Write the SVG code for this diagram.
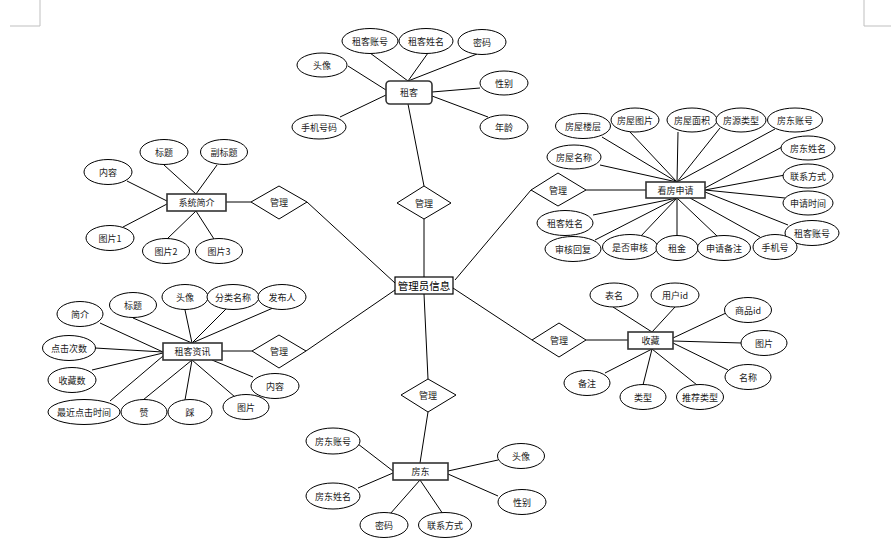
<svg xmlns="http://www.w3.org/2000/svg" width="891" height="553" viewBox="0 0 891 553">
<style>
  .bg { fill: #ffffff; }
  .mark { stroke: #bfbfbf; stroke-width: 1; fill: none; }
  .attr ellipse { fill: #ffffff; stroke: #000000; stroke-width: 1; }
  .ent rect { fill: #ffffff; stroke: #333333; stroke-width: 1.6; }
  .rel polygon { fill: #ffffff; stroke: #000000; stroke-width: 1; }
  .main rect { fill: #ffffff; stroke: #000000; stroke-width: 1.2; }
  text { font-family: "Noto Sans CJK SC", "Liberation Sans", sans-serif; font-size: 9px; fill: #1a1a1a; text-anchor: middle; dominant-baseline: central; }
  .main text { font-size: 10.5px; fill: #000000; }
  #connectors line { stroke: #000000; stroke-width: 1; }
</style>
<rect class="bg" x="0" y="0" width="891" height="553"/>
<g id="page-marks">
  <line class="mark" x1="40" y1="0" x2="40" y2="26"/>
  <line class="mark" x1="10" y1="26" x2="40" y2="26"/>
  <line class="mark" x1="864" y1="0" x2="864" y2="26"/>
  <line class="mark" x1="864" y1="26" x2="891" y2="26"/>
</g>
<g id="connectors">
  <!-- central relationships -->
  <line x1="424" y1="277" x2="424" y2="219"/>
  <line x1="424" y1="186" x2="408" y2="104"/>
  <line x1="455" y1="280" x2="531" y2="190"/>
  <line x1="586" y1="190" x2="646" y2="190"/>
  <line x1="395" y1="283" x2="307" y2="202"/>
  <line x1="251" y1="202" x2="226" y2="202"/>
  <line x1="395" y1="290" x2="306" y2="351"/>
  <line x1="252" y1="351" x2="222" y2="351"/>
  <line x1="453" y1="288" x2="532" y2="340"/>
  <line x1="586" y1="340" x2="628" y2="340"/>
  <line x1="424" y1="294" x2="428" y2="379"/>
  <line x1="428" y1="412" x2="420" y2="463"/>
  <!-- 租客 -->
  <line x1="370" y1="53" x2="408" y2="81"/>
  <line x1="428" y1="53" x2="408" y2="81"/>
  <line x1="477" y1="54" x2="408" y2="81"/>
  <line x1="348" y1="66" x2="386" y2="90"/>
  <line x1="340" y1="117" x2="386" y2="95"/>
  <line x1="480" y1="88" x2="432" y2="92"/>
  <line x1="488" y1="117" x2="432" y2="96"/>
  <!-- 看房申请 -->
  <line x1="602" y1="137" x2="677" y2="182"/>
  <line x1="630" y1="132" x2="677" y2="182"/>
  <line x1="678" y1="132" x2="677" y2="182"/>
  <line x1="720" y1="128" x2="677" y2="182"/>
  <line x1="775" y1="129" x2="677" y2="182"/>
  <line x1="600" y1="165" x2="677" y2="182"/>
  <line x1="782" y1="147" x2="705" y2="188"/>
  <line x1="785" y1="175" x2="705" y2="190"/>
  <line x1="785" y1="198" x2="705" y2="190"/>
  <line x1="788" y1="225" x2="705" y2="192"/>
  <line x1="593" y1="215" x2="677" y2="198"/>
  <line x1="595" y1="240" x2="677" y2="198"/>
  <line x1="640" y1="237" x2="677" y2="198"/>
  <line x1="677" y1="236" x2="677" y2="198"/>
  <line x1="717" y1="236" x2="677" y2="198"/>
  <line x1="760" y1="237" x2="690" y2="198"/>
  <!-- 系统简介 -->
  <line x1="127" y1="181" x2="167" y2="201"/>
  <line x1="164" y1="165" x2="196" y2="194"/>
  <line x1="217" y1="165" x2="196" y2="194"/>
  <line x1="123" y1="227" x2="167" y2="204"/>
  <line x1="167" y1="239" x2="196" y2="211"/>
  <line x1="214" y1="239" x2="196" y2="211"/>
  <!-- 租客资讯 -->
  <line x1="100" y1="323" x2="163" y2="352"/>
  <line x1="95" y1="348" x2="163" y2="352"/>
  <line x1="92" y1="370" x2="163" y2="353"/>
  <line x1="110" y1="401" x2="163" y2="356"/>
  <line x1="133" y1="318" x2="192" y2="343"/>
  <line x1="185" y1="310" x2="192" y2="343"/>
  <line x1="227" y1="308" x2="192" y2="343"/>
  <line x1="273" y1="308" x2="192" y2="343"/>
  <line x1="143" y1="400" x2="192" y2="360"/>
  <line x1="185" y1="400" x2="192" y2="360"/>
  <line x1="235" y1="397" x2="192" y2="360"/>
  <line x1="253" y1="377" x2="212" y2="360"/>
  <!-- 收藏 -->
  <line x1="613" y1="307" x2="652" y2="332"/>
  <line x1="675" y1="307" x2="652" y2="332"/>
  <line x1="726" y1="313" x2="673" y2="338"/>
  <line x1="742" y1="343" x2="673" y2="341"/>
  <line x1="728" y1="370" x2="673" y2="343"/>
  <line x1="605" y1="373" x2="652" y2="349"/>
  <line x1="643" y1="385" x2="652" y2="349"/>
  <line x1="697" y1="385" x2="652" y2="349"/>
  <!-- 房东 -->
  <line x1="358" y1="444" x2="393" y2="471"/>
  <line x1="358" y1="488" x2="393" y2="473"/>
  <line x1="390" y1="514" x2="420" y2="480"/>
  <line x1="443" y1="514" x2="420" y2="480"/>
  <line x1="498" y1="460" x2="448" y2="471"/>
  <line x1="498" y1="496" x2="448" y2="474"/>
</g>

<!-- central entity -->
<g id="n-admin" class="main"><rect x="395" y="277" width="58" height="17"/><text x="424" y="285.5">管理员信息</text></g>

<!-- relationships -->
<g id="r-zuke" class="rel"><polygon points="397,203 424,186 451,203 424,219"/><text x="424" y="203">管理</text></g>
<g id="r-kanfang" class="rel"><polygon points="531,190 558,173 586,190 558,206"/><text x="558" y="190">管理</text></g>
<g id="r-xitong" class="rel"><polygon points="251,202 279,186 307,202 279,219"/><text x="279" y="202.5">管理</text></g>
<g id="r-zixun" class="rel"><polygon points="252,351 279,335 306,351 279,368"/><text x="279" y="351.5">管理</text></g>
<g id="r-shoucang" class="rel"><polygon points="532,340 559,323 586,340 559,357"/><text x="559" y="340">管理</text></g>
<g id="r-fangdong" class="rel"><polygon points="401,395 428,379 456,395 428,412"/><text x="428" y="395.5">管理</text></g>

<!-- entities -->
<g id="e-zuke" class="ent"><rect x="386" y="81" width="46" height="23" rx="4"/><text x="409" y="92.5">租客</text></g>
<g id="e-kanfang" class="ent"><rect x="646" y="182" width="59" height="16"/><text x="675.5" y="190">看房申请</text></g>
<g id="e-xitong" class="ent"><rect x="167" y="194" width="59" height="17"/><text x="196.5" y="202.5">系统简介</text></g>
<g id="e-zixun" class="ent"><rect x="163" y="343" width="59" height="17"/><text x="192.5" y="351.5">租客资讯</text></g>
<g id="e-shoucang" class="ent"><rect x="628" y="332" width="45" height="17"/><text x="650.5" y="340.5">收藏</text></g>
<g id="e-fangdong" class="ent"><rect x="393" y="463" width="55" height="17"/><text x="420.5" y="471.5">房东</text></g>

<!-- 租客 attributes -->
<g id="a-zk-zhanghao" class="attr"><ellipse cx="370" cy="41" rx="28" ry="12.5"/><text x="370" y="41">租客账号</text></g>
<g id="a-zk-xingming" class="attr"><ellipse cx="426" cy="41" rx="27" ry="12.5"/><text x="426" y="41">租客姓名</text></g>
<g id="a-zk-mima" class="attr"><ellipse cx="482" cy="42" rx="24" ry="12.5"/><text x="482" y="42">密码</text></g>
<g id="a-zk-touxiang" class="attr"><ellipse cx="322" cy="65" rx="25" ry="12"/><text x="322" y="65">头像</text></g>
<g id="a-zk-shouji" class="attr"><ellipse cx="319" cy="127" rx="27" ry="12"/><text x="319" y="127">手机号码</text></g>
<g id="a-zk-xingbie" class="attr"><ellipse cx="504" cy="83" rx="24" ry="12"/><text x="504" y="83">性别</text></g>
<g id="a-zk-nianling" class="attr"><ellipse cx="504" cy="127" rx="24" ry="12"/><text x="504" y="127">年龄</text></g>

<!-- 看房申请 attributes -->
<g id="a-kf-louceng" class="attr"><ellipse cx="583" cy="126" rx="27.5" ry="12.5"/><text x="583" y="126">房屋楼层</text></g>
<g id="a-kf-tupian" class="attr"><ellipse cx="635" cy="120" rx="24" ry="12"/><text x="635" y="120">房屋图片</text></g>
<g id="a-kf-mianji" class="attr"><ellipse cx="692" cy="120" rx="25" ry="12"/><text x="692" y="120">房屋面积</text></g>
<g id="a-kf-leixing" class="attr"><ellipse cx="741" cy="120" rx="25" ry="12"/><text x="741" y="120">房源类型</text></g>
<g id="a-kf-fdzhanghao" class="attr"><ellipse cx="795" cy="120" rx="27.5" ry="12"/><text x="795" y="120">房东账号</text></g>
<g id="a-kf-mingcheng" class="attr"><ellipse cx="574" cy="157" rx="27" ry="12"/><text x="574" y="157">房屋名称</text></g>
<g id="a-kf-fdxingming" class="attr"><ellipse cx="808" cy="148" rx="27" ry="12"/><text x="808" y="148">房东姓名</text></g>
<g id="a-kf-lianxi" class="attr"><ellipse cx="808" cy="176" rx="25" ry="12"/><text x="808" y="176">联系方式</text></g>
<g id="a-kf-shijian" class="attr"><ellipse cx="808" cy="203" rx="25" ry="12"/><text x="808" y="203">申请时间</text></g>
<g id="a-kf-zkzhanghao" class="attr"><ellipse cx="812" cy="233" rx="27" ry="12.5"/><text x="812" y="233">租客账号</text></g>
<g id="a-kf-zkxingming" class="attr"><ellipse cx="565" cy="223" rx="28" ry="12.5"/><text x="565" y="223">租客姓名</text></g>
<g id="a-kf-huifu" class="attr"><ellipse cx="573" cy="249" rx="28" ry="12.5"/><text x="573" y="249">审核回复</text></g>
<g id="a-kf-shenhe" class="attr"><ellipse cx="630" cy="247" rx="27.5" ry="12.5"/><text x="630" y="247">是否审核</text></g>
<g id="a-kf-zujin" class="attr"><ellipse cx="677" cy="248" rx="21" ry="12.5"/><text x="677" y="248">租金</text></g>
<g id="a-kf-beizhu" class="attr"><ellipse cx="724" cy="248" rx="26.5" ry="12.5"/><text x="724" y="248">申请备注</text></g>
<g id="a-kf-shoujihao" class="attr"><ellipse cx="775" cy="247" rx="22" ry="12.5"/><text x="775" y="247">手机号</text></g>

<!-- 系统简介 attributes -->
<g id="a-xt-neirong" class="attr"><ellipse cx="108" cy="172" rx="24" ry="12.5"/><text x="108" y="172">内容</text></g>
<g id="a-xt-biaoti" class="attr"><ellipse cx="164" cy="152" rx="24" ry="12.5"/><text x="164" y="152">标题</text></g>
<g id="a-xt-fubiaoti" class="attr"><ellipse cx="224" cy="152" rx="23.5" ry="12.5"/><text x="224" y="152">副标题</text></g>
<g id="a-xt-tupian1" class="attr"><ellipse cx="110" cy="238" rx="24" ry="12.5"/><text x="110" y="238">图片1</text></g>
<g id="a-xt-tupian2" class="attr"><ellipse cx="166" cy="251" rx="23.5" ry="12.5"/><text x="166" y="251">图片2</text></g>
<g id="a-xt-tupian3" class="attr"><ellipse cx="219" cy="251" rx="23.5" ry="12.5"/><text x="219" y="251">图片3</text></g>

<!-- 租客资讯 attributes -->
<g id="a-zx-jianjie" class="attr"><ellipse cx="80" cy="314" rx="23" ry="12.5"/><text x="80" y="314">简介</text></g>
<g id="a-zx-biaoti" class="attr"><ellipse cx="133" cy="305" rx="23.5" ry="12.5"/><text x="133" y="305">标题</text></g>
<g id="a-zx-touxiang" class="attr"><ellipse cx="185" cy="297" rx="23" ry="12.5"/><text x="185" y="297">头像</text></g>
<g id="a-zx-fenlei" class="attr"><ellipse cx="233" cy="297" rx="26" ry="12.5"/><text x="233" y="297">分类名称</text></g>
<g id="a-zx-fabuRen" class="attr"><ellipse cx="282" cy="297" rx="24" ry="12.5"/><text x="282" y="297">发布人</text></g>
<g id="a-zx-dianji" class="attr"><ellipse cx="69" cy="348" rx="26.5" ry="12.5"/><text x="69" y="348">点击次数</text></g>
<g id="a-zx-shoucang" class="attr"><ellipse cx="72" cy="380" rx="24" ry="12.5"/><text x="72" y="380">收藏数</text></g>
<g id="a-zx-zuijin" class="attr"><ellipse cx="84" cy="412" rx="36" ry="12.5"/><text x="84" y="412">最近点击时间</text></g>
<g id="a-zx-zan" class="attr"><ellipse cx="144" cy="412" rx="23" ry="12.5"/><text x="144" y="412">赞</text></g>
<g id="a-zx-cai" class="attr"><ellipse cx="190" cy="412" rx="22" ry="12.5"/><text x="190" y="412">踩</text></g>
<g id="a-zx-tupian" class="attr"><ellipse cx="246" cy="407" rx="23" ry="12.5"/><text x="246" y="407">图片</text></g>
<g id="a-zx-neirong" class="attr"><ellipse cx="275" cy="386" rx="24" ry="12.5"/><text x="275" y="386">内容</text></g>

<!-- 收藏 attributes -->
<g id="a-sc-biaoming" class="attr"><ellipse cx="614" cy="295" rx="24" ry="12"/><text x="614" y="295">表名</text></g>
<g id="a-sc-yonghuid" class="attr"><ellipse cx="675" cy="295" rx="24" ry="12"/><text x="675" y="295">用户id</text></g>
<g id="a-sc-shangpinid" class="attr"><ellipse cx="748" cy="310" rx="23.5" ry="12.5"/><text x="748" y="310">商品id</text></g>
<g id="a-sc-tupian" class="attr"><ellipse cx="764" cy="343" rx="23" ry="12.5"/><text x="764" y="343">图片</text></g>
<g id="a-sc-mingcheng" class="attr"><ellipse cx="748" cy="377" rx="23" ry="12.5"/><text x="748" y="377">名称</text></g>
<g id="a-sc-beizhu" class="attr"><ellipse cx="587" cy="383" rx="23" ry="12.5"/><text x="587" y="383">备注</text></g>
<g id="a-sc-leixing" class="attr"><ellipse cx="643" cy="397" rx="23" ry="12.5"/><text x="643" y="397">类型</text></g>
<g id="a-sc-tuijian" class="attr"><ellipse cx="700" cy="397" rx="23.5" ry="12.5"/><text x="700" y="397">推荐类型</text></g>

<!-- 房东 attributes -->
<g id="a-fd-zhanghao" class="attr"><ellipse cx="333" cy="441" rx="27" ry="13"/><text x="333" y="441">房东账号</text></g>
<g id="a-fd-xingming" class="attr"><ellipse cx="333" cy="496" rx="27" ry="13"/><text x="333" y="496">房东姓名</text></g>
<g id="a-fd-mima" class="attr"><ellipse cx="384" cy="525" rx="24" ry="12.5"/><text x="384" y="525">密码</text></g>
<g id="a-fd-lianxi" class="attr"><ellipse cx="445" cy="525" rx="26.5" ry="12.5"/><text x="445" y="525">联系方式</text></g>
<g id="a-fd-touxiang" class="attr"><ellipse cx="521" cy="456" rx="23.5" ry="12.5"/><text x="521" y="456">头像</text></g>
<g id="a-fd-xingbie" class="attr"><ellipse cx="522" cy="502" rx="24" ry="12.5"/><text x="522" y="502">性别</text></g>
</svg>
